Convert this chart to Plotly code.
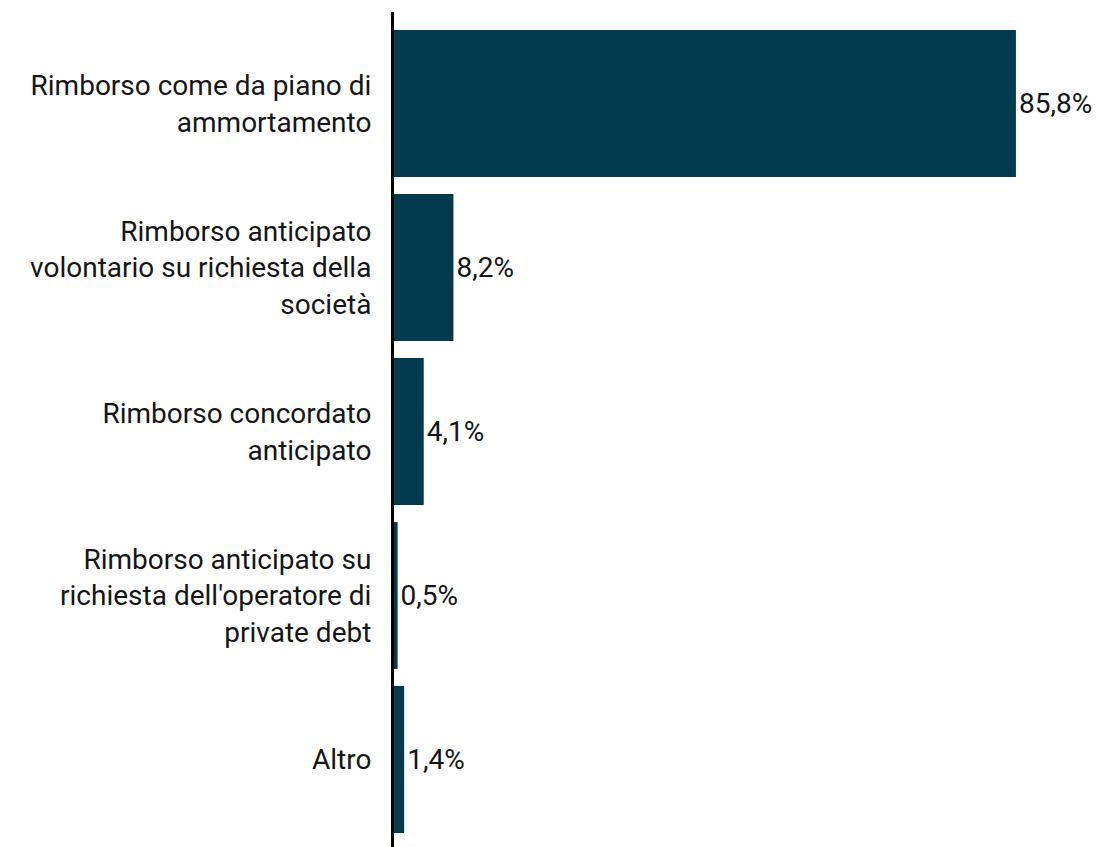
import plotly.graph_objects as go

categories = [
    "Rimborso come da piano di<br>ammortamento",
    "Rimborso anticipato<br>volontario su richiesta della<br>società",
    "Rimborso concordato<br>anticipato",
    "Rimborso anticipato su<br>richiesta dell'operatore di<br>private debt",
    "Altro",
]
values = [85.8, 8.2, 4.1, 0.5, 1.4]
value_labels = [f"{v:.1f}%".replace(".", ",") for v in values]

bar_color = "#033a4e"
font_family = "Roboto, 'Noto Sans', sans-serif"

fig = go.Figure()

fig.add_trace(go.Bar(
    x=values,
    y=categories,
    orientation="h",
    marker=dict(color=bar_color, line=dict(width=0)),
    text=value_labels,
    textposition="outside",
    textfont=dict(family=font_family, size=28, color="#151515"),
    cliponaxis=False,
    hoverinfo="skip",
))

fig.update_layout(
    width=1100,
    height=847,
    paper_bgcolor="white",
    plot_bgcolor="white",
    showlegend=False,
    bargap=0.104,
    font=dict(family=font_family, size=28, color="#151515"),
    # page body adds an 8px offset, so margins are shifted to compensate
    margin=dict(l=386, r=0, t=4, b=0, autoexpand=False),
    xaxis=dict(
        range=[0, 98.5],
        showgrid=False,
        zeroline=False,
        showticklabels=False,
        showline=False,
        fixedrange=True,
    ),
    yaxis=dict(
        type="category",
        range=[4.582, -0.558],
        showgrid=False,
        zeroline=False,
        showline=True,
        linecolor="black",
        linewidth=3,
        ticks="",
        ticklabelstandoff=14,
        automargin=False,
        tickfont=dict(family=font_family, size=28, color="#151515"),
    ),
)

fig.write_html("out.html")
